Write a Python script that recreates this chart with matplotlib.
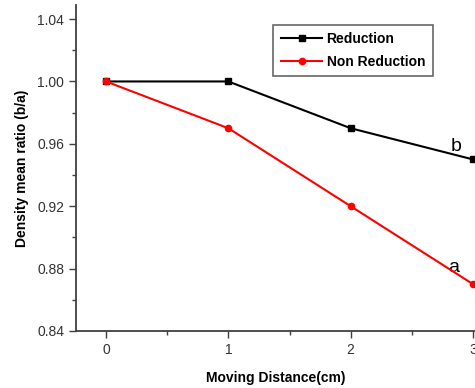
import matplotlib
matplotlib.use("Agg")
import matplotlib.pyplot as plt
from matplotlib.ticker import MultipleLocator

x = [0, 1, 2, 3]
reduction = [1.00, 1.00, 0.97, 0.95]
non_reduction = [1.00, 0.97, 0.92, 0.87]
yticks = [0.84, 0.88, 0.92, 0.96, 1.00, 1.04]

plt.rcParams['font.family'] = ['Liberation Sans', 'DejaVu Sans']

fig = plt.figure(figsize=(4.75, 3.88), dpi=100)
ax = fig.add_axes([0.16, 0.147, 0.84, 0.84])

ax.plot(x, reduction, color='black', marker='s', markersize=5, linewidth=1.5, label='Reduction', clip_on=False, zorder=3)
ax.plot(x, non_reduction, color='red', marker='o', markersize=4.5, linewidth=1.5, label='Non Reduction', clip_on=False, zorder=4)

ax.set_xlim(-0.245, 3.016)
ax.set_ylim(0.84, 1.049)
ax.set_yticks(yticks)
ax.set_yticklabels([f"{v:.2f}" for v in yticks])
ax.set_xticks(x)
ax.xaxis.set_minor_locator(MultipleLocator(0.5))
ax.yaxis.set_minor_locator(MultipleLocator(0.02))

for s in ['top', 'right']:
    ax.spines[s].set_visible(False)
for s in ['left', 'bottom']:
    ax.spines[s].set_color('#404040')
    ax.spines[s].set_linewidth(1.3)

ax.tick_params(axis='both', which='major', direction='out', length=5, width=1, color='#404040', labelsize=10, labelcolor='#333333')
ax.tick_params(axis='both', which='minor', direction='out', length=3, width=1, color='#404040')

ax.set_xlabel('Moving Distance(cm)', fontsize=10, fontweight='bold', labelpad=10)
ax.set_ylabel('Density mean ratio (b/a)', fontsize=10, fontweight='bold', labelpad=6)

ax.text(2.84, 0.881, 'a', fontsize=14, ha='center', va='center')
ax.text(2.86, 0.958, 'b', fontsize=14, ha='center', va='center')

leg = ax.legend(loc='upper left', bbox_to_anchor=(0.494, 0.94), frameon=True, fancybox=False,
                edgecolor='#404040', prop={'weight': 'bold', 'size': 10}, handlelength=3,
                borderpad=0.55, labelspacing=0.6, handletextpad=0.3, borderaxespad=0)
leg.get_frame().set_linewidth(1.2)

fig.savefig('out.png', dpi=100)
